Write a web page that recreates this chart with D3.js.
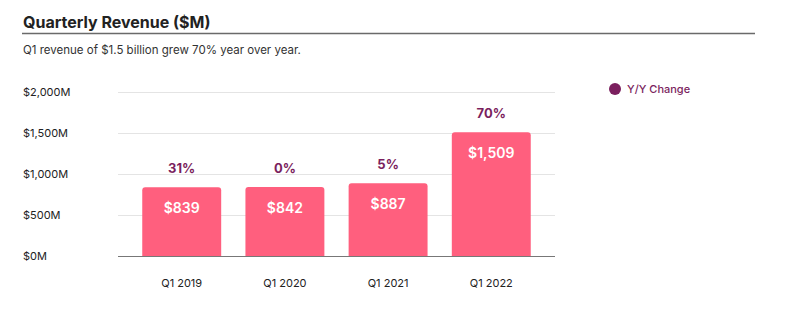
<!DOCTYPE html>
<html><head><meta charset="utf-8">
<script src="https://cdn.jsdelivr.net/npm/d3@7"></script>
<style>
body{margin:0;background:#fff;font-family:Inter,"Noto Sans",sans-serif;}
</style></head><body>
<svg id="c" width="788" height="322"></svg>
<script>
const categories = ["Q1 2019","Q1 2020","Q1 2021","Q1 2022"];
const revenue = [839, 842, 887, 1509];
const yoyChange = ["31%","0%","5%","70%"];
const yTicks = [0, 500, 1000, 1500, 2000];
const yTickLabels = ["$0M","$500M","$1,000M","$1,500M","$2,000M"];
const barLabels = ["$839","$842","$887","$1,509"];

const svg = d3.select("#c");
const font = "Inter, 'Noto Sans', sans-serif";

svg.append("text").attr("x",23).attr("y",28).attr("font-family",font)
  .attr("font-size",16).attr("font-weight",700).attr("fill","#222")
  .text("Quarterly Revenue ($M)");
svg.append("line").attr("x1",22).attr("x2",755).attr("y1",33.5).attr("y2",33.5)
  .attr("stroke","#6a6a6a").attr("stroke-width",1.5);
svg.append("text").attr("x",23).attr("y",54).attr("font-family",font)
  .attr("font-size",11.5).attr("fill","#333")
  .text("Q1 revenue of $1.5 billion grew 70% year over year.");

const x = d3.scaleBand().domain(categories).range([118,555]).paddingInner(0.235).paddingOuter(0.235);
const y = d3.scaleLinear().domain([0,2000]).range([256,92]);

// grid
svg.append("g").selectAll("line").data(yTicks.filter(d=>d>0)).join("line")
  .attr("x1",118).attr("x2",555).attr("y1",d=>y(d)+0.5).attr("y2",d=>y(d)+0.5)
  .attr("stroke","#e4e4e4").attr("stroke-width",1);

// y labels
svg.append("g").selectAll("text").data(yTicks).join("text")
  .attr("x",23).attr("y",d=>y(d)).attr("dy","0.35em")
  .attr("font-family",font).attr("font-size",11).attr("fill","#222")
  .text((d,i)=>yTickLabels[i]);

// bars with rounded top
const r = 3;
svg.append("g").selectAll("path").data(revenue).join("path")
  .attr("fill","#ff5f7e")
  .attr("d",(d,i)=>{
    const x0 = x(categories[i]), w = x.bandwidth(), y0 = y(d), y1 = y(0);
    return `M${x0},${y1}V${y0+r}Q${x0},${y0} ${x0+r},${y0}H${x0+w-r}Q${x0+w},${y0} ${x0+w},${y0+r}V${y1}Z`;
  });

// baseline
svg.append("line").attr("x1",118).attr("x2",555).attr("y1",256.5).attr("y2",256.5)
  .attr("stroke","#777").attr("stroke-width",1.2);

// bar labels
svg.append("g").selectAll("text").data(revenue).join("text")
  .attr("x",(d,i)=>x(categories[i])+x.bandwidth()/2).attr("y",d=>y(d)+21).attr("dy","0.35em")
  .attr("text-anchor","middle").attr("font-family",font).attr("font-size",14)
  .attr("font-weight",600).attr("fill","#fff")
  .text((d,i)=>barLabels[i]);

// yoy labels
svg.append("g").selectAll("text").data(revenue).join("text")
  .attr("x",(d,i)=>x(categories[i])+x.bandwidth()/2).attr("y",d=>y(d)-19).attr("dy","0.35em")
  .attr("text-anchor","middle").attr("font-family",font).attr("font-size",13)
  .attr("font-weight",700).attr("fill","#7b1f5e")
  .text((d,i)=>yoyChange[i]);

// x labels
svg.append("g").selectAll("text").data(categories).join("text")
  .attr("x",d=>x(d)+x.bandwidth()/2).attr("y",283).attr("dy","0.35em")
  .attr("text-anchor","middle").attr("font-family",font).attr("font-size",11)
  .attr("fill","#222").text(d=>d);

// legend
svg.append("circle").attr("cx",615).attr("cy",89).attr("r",6).attr("fill","#7b1f5e");
svg.append("text").attr("x",627).attr("y",89).attr("dy","0.35em")
  .attr("font-family",font).attr("font-size",11).attr("font-weight",500)
  .attr("fill","#7b1f5e").text("Y/Y Change");
</script></body></html>
